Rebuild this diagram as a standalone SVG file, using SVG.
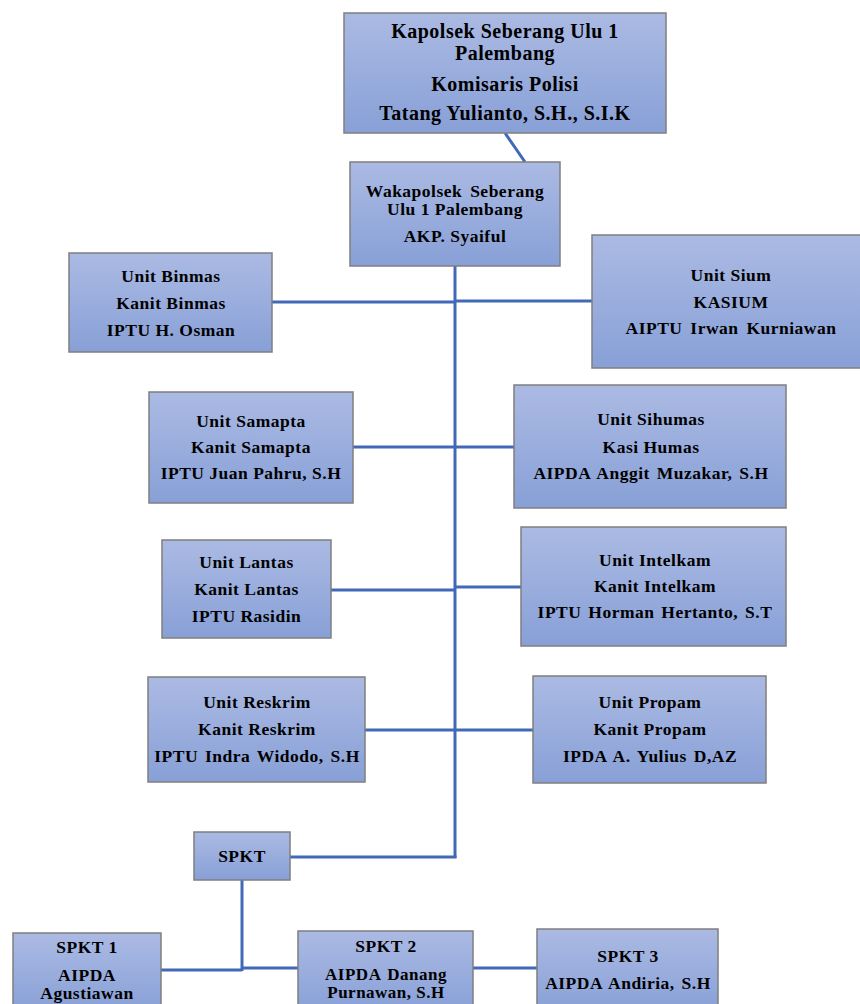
<svg xmlns="http://www.w3.org/2000/svg" width="860" height="1004" viewBox="0 0 860 1004">
<defs>
<linearGradient id="g" x1="0" y1="0" x2="0" y2="1">
<stop offset="0" stop-color="#abbae3"/>
<stop offset="1" stop-color="#88a0d7"/>
</linearGradient>
<style>
.box{fill:url(#g);stroke:#7f7f7f;stroke-width:1.5}
text{font-family:"Liberation Serif","Times New Roman",serif;font-weight:bold;fill:#000;text-anchor:middle;letter-spacing:0.5px}
.t{font-size:17.5px}
.s{font-size:17px}
.k{font-size:20px}
.c{stroke:#4169b8;stroke-width:3;fill:none}
</style>
</defs>
<rect width="860" height="1004" fill="#fff"/>
<g id="connectors">
<line class="c" x1="505" y1="133" x2="525" y2="162"/>
<line class="c" x1="455" y1="266" x2="455" y2="858"/>
<line class="c" x1="272" y1="302" x2="455" y2="302"/>
<line class="c" x1="455" y1="301" x2="592" y2="301"/>
<line class="c" x1="353" y1="447" x2="514" y2="447"/>
<line class="c" x1="331" y1="590" x2="455" y2="590"/>
<line class="c" x1="455" y1="587" x2="521" y2="587"/>
<line class="c" x1="365" y1="730" x2="533" y2="730"/>
<line class="c" x1="290" y1="857" x2="456.5" y2="857"/>
<line class="c" x1="242" y1="880" x2="242" y2="971"/>
<line class="c" x1="161" y1="970" x2="242" y2="970"/>
<line class="c" x1="242" y1="968" x2="298" y2="968"/>
<line class="c" x1="473" y1="968" x2="537" y2="968"/>
</g>
<g id="kapolsek">
<rect class="box" x="344" y="13" width="322" height="120"/>
<text class="k" x="505" y="38">Kapolsek Seberang Ulu 1</text>
<text class="k" x="505" y="60">Palembang</text>
<text class="k" x="505" y="91">Komisaris Polisi</text>
<text class="k" x="505" y="120">Tatang Yulianto, S.H., S.I.K</text>
</g>
<g id="wakapolsek">
<rect class="box" x="350" y="162" width="210" height="104"/>
<text class="t" x="455" y="197" word-spacing="3">Wakapolsek Seberang</text>
<text class="t" x="455" y="215">Ulu 1 Palembang</text>
<text class="t" x="455" y="242">AKP. Syaiful</text>
</g>
<g id="binmas">
<rect class="box" x="69" y="253" width="203" height="99"/>
<text class="t" x="171" y="282">Unit Binmas</text>
<text class="t" x="171" y="309">Kanit Binmas</text>
<text class="t" x="171" y="336">IPTU H. Osman</text>
</g>
<g id="sium">
<rect class="box" x="592" y="235" width="280" height="133"/>
<text class="t" x="731" y="281">Unit Sium</text>
<text class="t" x="731" y="308">KASIUM</text>
<text class="t" x="731" y="334" word-spacing="3">AIPTU Irwan Kurniawan</text>
</g>
<g id="samapta">
<rect class="box" x="149" y="392" width="204" height="111"/>
<text class="t" x="251" y="427">Unit Samapta</text>
<text class="t" x="251" y="453">Kanit Samapta</text>
<text class="t" x="251" y="479">IPTU Juan Pahru, S.H</text>
</g>
<g id="sihumas">
<rect class="box" x="514" y="385" width="272" height="123"/>
<text class="t" x="651" y="425">Unit Sihumas</text>
<text class="t" x="651" y="453">Kasi Humas</text>
<text class="t" x="651" y="479" word-spacing="2">AIPDA Anggit Muzakar, S.H</text>
</g>
<g id="lantas">
<rect class="box" x="162" y="540" width="169" height="98"/>
<text class="t" x="246.5" y="568">Unit Lantas</text>
<text class="t" x="246.5" y="595">Kanit Lantas</text>
<text class="t" x="246.5" y="622">IPTU Rasidin</text>
</g>
<g id="intelkam">
<rect class="box" x="521" y="527" width="265" height="119"/>
<text class="t" x="655" y="566">Unit Intelkam</text>
<text class="t" x="655" y="592">Kanit Intelkam</text>
<text class="t" x="655" y="618" word-spacing="2">IPTU Horman Hertanto, S.T</text>
</g>
<g id="reskrim">
<rect class="box" x="148" y="677" width="217" height="105"/>
<text class="t" x="257" y="708">Unit Reskrim</text>
<text class="t" x="257" y="735">Kanit Reskrim</text>
<text class="t" x="257" y="762" word-spacing="2">IPTU Indra Widodo, S.H</text>
</g>
<g id="propam">
<rect class="box" x="533" y="676" width="233" height="107"/>
<text class="t" x="650" y="708">Unit Propam</text>
<text class="t" x="650" y="735">Kanit Propam</text>
<text class="t" x="650" y="762" word-spacing="2">IPDA A. Yulius D,AZ</text>
</g>
<g id="spkt">
<rect class="box" x="194" y="832" width="96" height="48"/>
<text class="t" x="242" y="862">SPKT</text>
</g>
<g id="spkt1">
<rect class="box" x="13" y="933" width="148" height="80"/>
<text class="t" x="87" y="953">SPKT 1</text>
<text class="t" x="87" y="981">AIPDA</text>
<text class="t" x="87" y="999">Agustiawan</text>
</g>
<g id="spkt2">
<rect class="box" x="298" y="931" width="175" height="82"/>
<text class="t" x="386" y="952">SPKT 2</text>
<text class="s" x="386" y="980" word-spacing="2">AIPDA Danang</text>
<text class="s" x="386" y="998">Purnawan, S.H</text>
</g>
<g id="spkt3">
<rect class="box" x="537" y="929" width="181" height="84"/>
<text class="t" x="628" y="962">SPKT 3</text>
<text class="t" x="628" y="989" word-spacing="2">AIPDA Andiria, S.H</text>
</g>
</svg>
